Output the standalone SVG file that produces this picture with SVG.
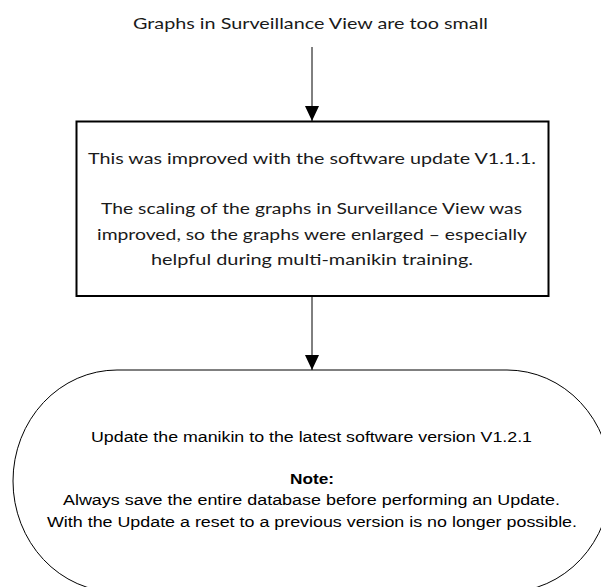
<svg xmlns="http://www.w3.org/2000/svg" width="601" height="587" viewBox="0 0 601 587">
  <style>
    .cal { font-family: Lato, "Open Sans", "Liberation Sans", sans-serif; font-size: 16px; fill: #1a1a1a; text-anchor: middle; }
    .ari { font-family: "Liberation Sans", Arial, sans-serif; font-size: 15.5px; fill: #000; text-anchor: middle; }
    .b { font-weight: bold; }
    .edge { stroke: #000; stroke-width: 1; fill: none; }
  </style>
  <defs>
    <marker id="arr" markerWidth="15" markerHeight="14" refX="15" refY="7" orient="auto" markerUnits="userSpaceOnUse" viewBox="0 0 15 14">
      <polygon points="0,0 15,7 0,14" fill="#000"/>
    </marker>
  </defs>
  <rect width="601" height="587" fill="#fff"/>

  <g id="start">
    <text class="cal" x="310.5" y="29" textLength="355" lengthAdjust="spacingAndGlyphs">Graphs in Surveillance View are too small</text>
  </g>

  <g id="process">
    <rect x="76.5" y="121.5" width="472" height="174.5" fill="#fff" stroke="#000" stroke-width="2"/>
    <text class="cal" x="312" y="164" textLength="448" lengthAdjust="spacingAndGlyphs">This was improved with the software update V1.1.1.</text>
    <text class="cal" x="311.5" y="214" textLength="421" lengthAdjust="spacingAndGlyphs">The scaling of the graphs in Surveillance View was</text>
    <text class="cal" x="312" y="240" textLength="430" lengthAdjust="spacingAndGlyphs">improved, so the graphs were enlarged – especially</text>
    <text class="cal" x="312" y="265" textLength="322" lengthAdjust="spacingAndGlyphs">helpful during multi-manikin training.</text>
  </g>

  <g id="terminator">
    <path d="M117,370 H507 A104,111 0 0 1 507,592 H117 A104,111 0 0 1 117,370 Z" fill="#fff" stroke="#000" stroke-width="1"/>
    <text class="ari" x="311.5" y="442" textLength="441" lengthAdjust="spacingAndGlyphs">Update the manikin to the latest software version V1.2.1</text>
    <text class="ari b" x="312" y="484" textLength="44" lengthAdjust="spacingAndGlyphs">Note:</text>
    <text class="ari" x="311.5" y="505" textLength="497" lengthAdjust="spacingAndGlyphs">Always save the entire database before performing an Update.</text>
    <text class="ari" x="312" y="527" textLength="530" lengthAdjust="spacingAndGlyphs">With the Update a reset to a previous version is no longer possible.</text>
  </g>

  <g id="connectors">
    <line class="edge" x1="312" y1="47" x2="312" y2="121" marker-end="url(#arr)"/>
    <line class="edge" x1="312" y1="297" x2="312" y2="370" marker-end="url(#arr)"/>
  </g>
</svg>
